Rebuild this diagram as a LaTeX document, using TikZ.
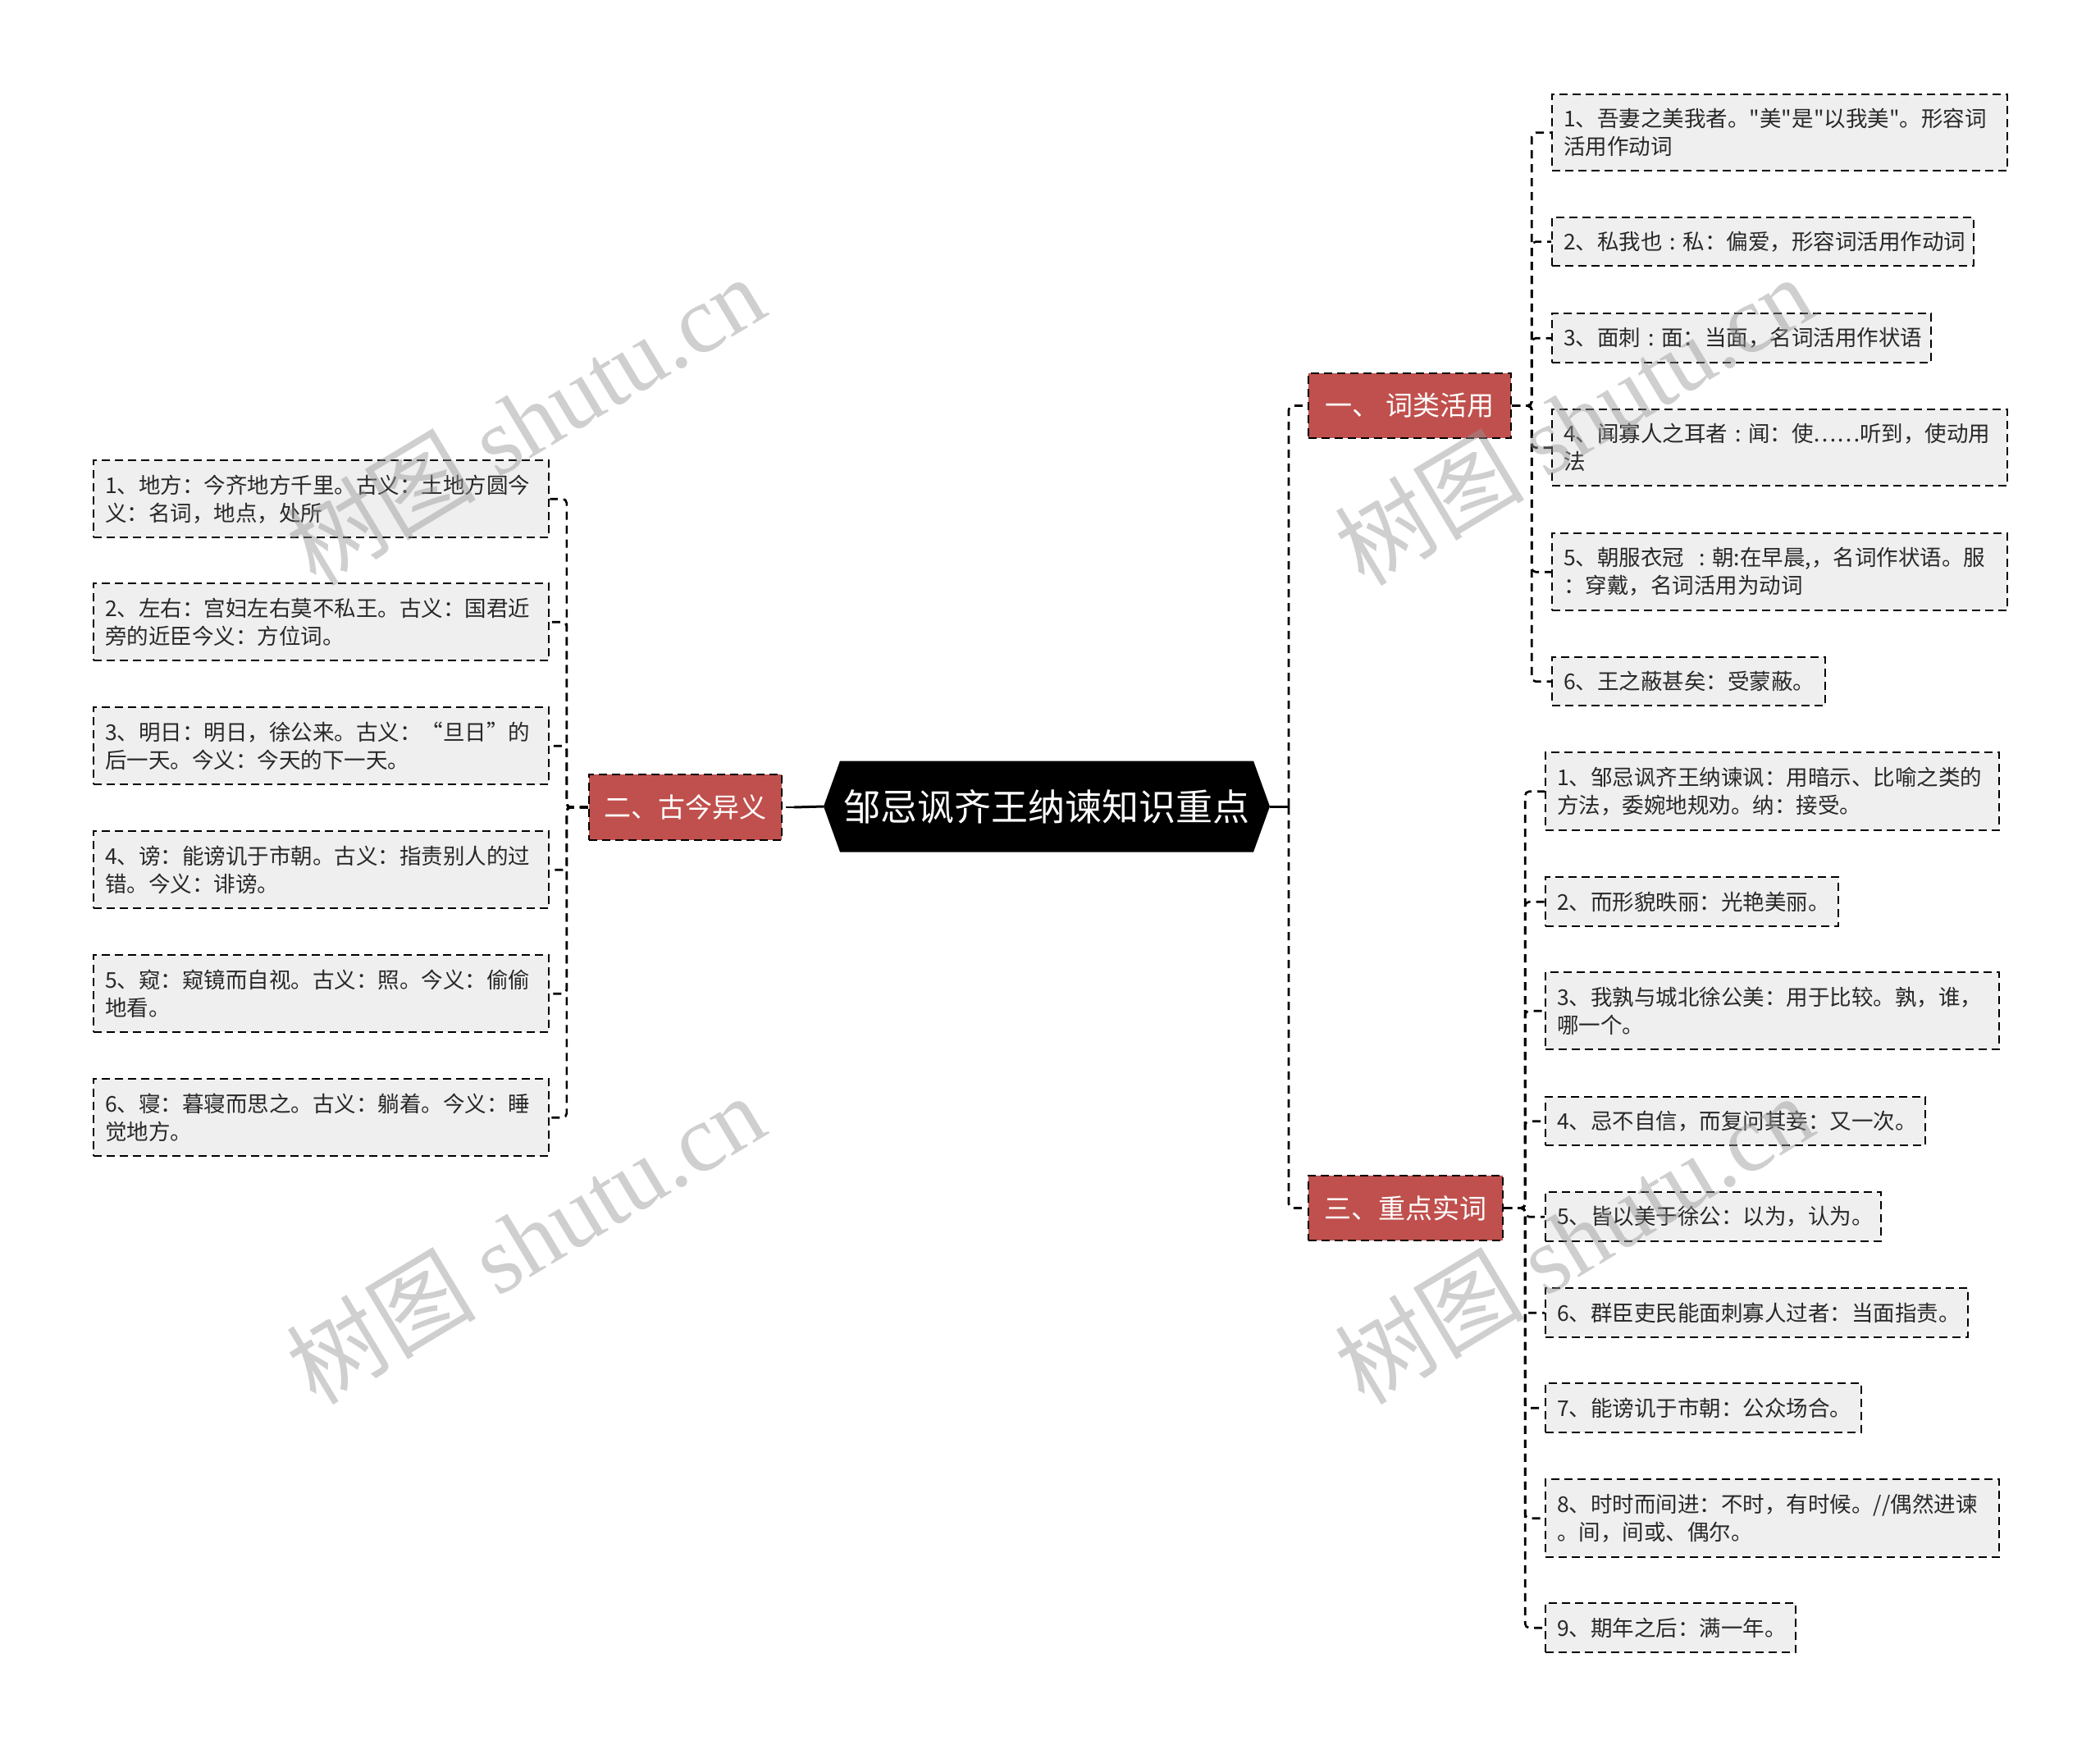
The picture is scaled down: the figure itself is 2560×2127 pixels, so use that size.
\documentclass[tikz,border=0pt]{standalone}
\usepackage{fontspec}
\setmainfont{Noto Sans CJK SC}[Ligatures=TeXOff]
\newfontfamily\wmserif{Liberation Serif}
\definecolor{redbox}{RGB}{192,80,77}
\definecolor{leaffill}{RGB}{239,239,239}
\definecolor{leaftext}{RGB}{40,40,40}
\definecolor{wmgray}{RGB}{150,150,150}
\tikzset{
  conn/.style={draw=black, line width=2.6pt, dash pattern=on 10pt off 7pt, rounded corners=5pt},
  solidconn/.style={draw=black, line width=3pt},
  leaf/.style={draw=black, line width=2.4pt, dash pattern=on 10pt off 6pt, fill=leaffill,
    anchor=north west, inner xsep=14pt, inner ysep=0pt, align=left,
    font=\fontsize{26.5}{34}\selectfont, text=leaftext},
  cat/.style={draw=black, line width=2.4pt, dash pattern=on 10pt off 6pt, fill=redbox,
    text=white, font=\fontsize{33}{40}\selectfont, inner sep=0pt},
  centre/.style={text=white, font=\fontsize{45}{54}\selectfont, inner sep=0pt,
    minimum width=504pt, minimum height=111pt},
  wm/.style={text=wmgray, text opacity=0.45, font=\fontsize{116}{126}\selectfont, inner sep=0pt}
}
\begin{document}
\begin{tikzpicture}[x=1pt,y=-1pt]
\useasboundingbox (0,0) rectangle (2560,2127);
\fill[white] (0,0) rectangle (2560,2127);

% central hexagon
\fill[black] (1004,983) -- (1024,927.5) -- (1528,927.5) -- (1548,983) -- (1528,1038.5) -- (1024,1038.5) -- cycle;
\node[centre] (c) at (1276,983) {邹忌讽齐王纳谏知识重点};
\coordinate (ce) at (1548,983);
\coordinate (cw) at (1004,983);
\coordinate (ct) at (1571,983);

% category nodes
\node[cat, minimum width=247pt, minimum height=79pt] (a1) at (1718.5,494.5) {一、~词类活用};
\node[cat, minimum width=235pt, minimum height=80pt] (a2) at (835.5,984) {二、古今异义};
\node[cat, minimum width=237pt, minimum height=79pt] (a3) at (1713.5,1472.5) {三、重点实词};

% left leaves
\node[leaf, text width=527pt, minimum height=94pt] (l1) at (113,560) {1、地方：今齐地方千里。古义：土地方圆今\\义：名词，地点，处所};
\node[leaf, text width=527pt, minimum height=94pt] (l2) at (113,710) {2、左右：宫妇左右莫不私王。古义：国君近\\旁的近臣今义：方位词。};
\node[leaf, text width=527pt, minimum height=94pt] (l3) at (113,861) {3、明日：明日，徐公来。古义：“旦日”的\\后一天。今义：今天的下一天。};
\node[leaf, text width=527pt, minimum height=94pt] (l4) at (113,1012) {4、谤：能谤讥于市朝。古义：指责别人的过\\错。今义：诽谤。};
\node[leaf, text width=527pt, minimum height=94pt] (l5) at (113,1163) {5、窥：窥镜而自视。古义：照。今义：偷偷\\地看。};
\node[leaf, text width=527pt, minimum height=94pt] (l6) at (113,1314) {6、寝：暮寝而思之。古义：躺着。今义：睡\\觉地方。};

% right top leaves
\node[leaf, text width=527pt, minimum height=93pt] (r1) at (1891,114) {1、吾妻之美我者。"美"是"以我美"。形容词\\活用作动词};
\node[leaf, text width=486pt, minimum height=59pt] (r2) at (1891,264) {2、私我也~:~私：偏爱，形容词活用作动词};
\node[leaf, text width=434pt, minimum height=60pt] (r3) at (1891,381) {3、面刺~:~面：当面，名词活用作状语};
\node[leaf, text width=527pt, minimum height=93pt] (r4) at (1891,498) {4、闻寡人之耳者~:~闻：使……听到，使动用\\法};
\node[leaf, text width=527pt, minimum height=94pt] (r5) at (1891,649) {5、朝服衣冠~~:~朝:在早晨,，名词作状语。服\\：穿戴，名词活用为动词};
\node[leaf, text width=305pt, minimum height=59pt] (r6) at (1891,800) {6、王之蔽甚矣：受蒙蔽。};

% right bottom leaves
\node[leaf, text width=525pt, minimum height=95pt] (s1) at (1883,916) {1、邹忌讽齐王纳谏讽：用暗示、比喻之类的\\方法，委婉地规劝。纳：接受。};
\node[leaf, text width=329pt, minimum height=60pt] (s2) at (1883,1068) {2、而形貌昳丽：光艳美丽。};
\node[leaf, text width=525pt, minimum height=94pt] (s3) at (1883,1184) {3、我孰与城北徐公美：用于比较。孰，谁，\\哪一个。};
\node[leaf, text width=435pt, minimum height=59pt] (s4) at (1883,1336) {4、忌不自信，而复问其妾：又一次。};
\node[leaf, text width=381pt, minimum height=60pt] (s5) at (1883,1452) {5、皆以美于徐公：以为，认为。};
\node[leaf, text width=487pt, minimum height=60pt] (s6) at (1883,1569) {6、群臣吏民能面刺寡人过者：当面指责。};
\node[leaf, text width=357pt, minimum height=60pt] (s7) at (1883,1685) {7、能谤讥于市朝：公众场合。};
\node[leaf, text width=525pt, minimum height=95pt] (s8) at (1883,1802) {8、时时而间进：不时，有时候。//偶然进谏\\。间，间或、偶尔。};
\node[leaf, text width=277pt, minimum height=60pt] (s9) at (1883,1953) {9、期年之后：满一年。};

% connectors from centre
\draw[solidconn] (cw) -- ([xshift=14pt]a2.east);
\draw[conn] ([xshift=14pt]a2.east) -- (a2.east);
\draw[solidconn] (ce) -- (ct);
\draw[conn] (ct) |- (a1.west);
\draw[conn] (ct) |- (a3.west);

% left connectors
\foreach \n in {l1,l2,l3,l4,l5,l6}
  \draw[conn] (a2.west) -- ++(-26,0) |- (\n.east);
% right top connectors
\foreach \n in {r1,r2,r3,r4,r5,r6}
  \draw[conn] (a1.east) -- ++(24,0) |- (\n.west);
% right bottom connectors
\foreach \n in {s1,s2,s3,s4,s5,s6,s7,s8,s9}
  \draw[conn] (a3.east) -- ++(26,0) |- (\n.west);

% watermarks
\node[wm, rotate=31] (wm1) at (640,512) {树图~{\wmserif shutu.cn}};
\node[wm, rotate=31] (wm2) at (640,1510) {树图~{\wmserif shutu.cn}};
\node[wm, rotate=31] (wm3) at (1918,512) {树图~{\wmserif shutu.cn}};
\node[wm, rotate=31] (wm4) at (1918,1510) {树图~{\wmserif shutu.cn}};
\end{tikzpicture}
\end{document}
